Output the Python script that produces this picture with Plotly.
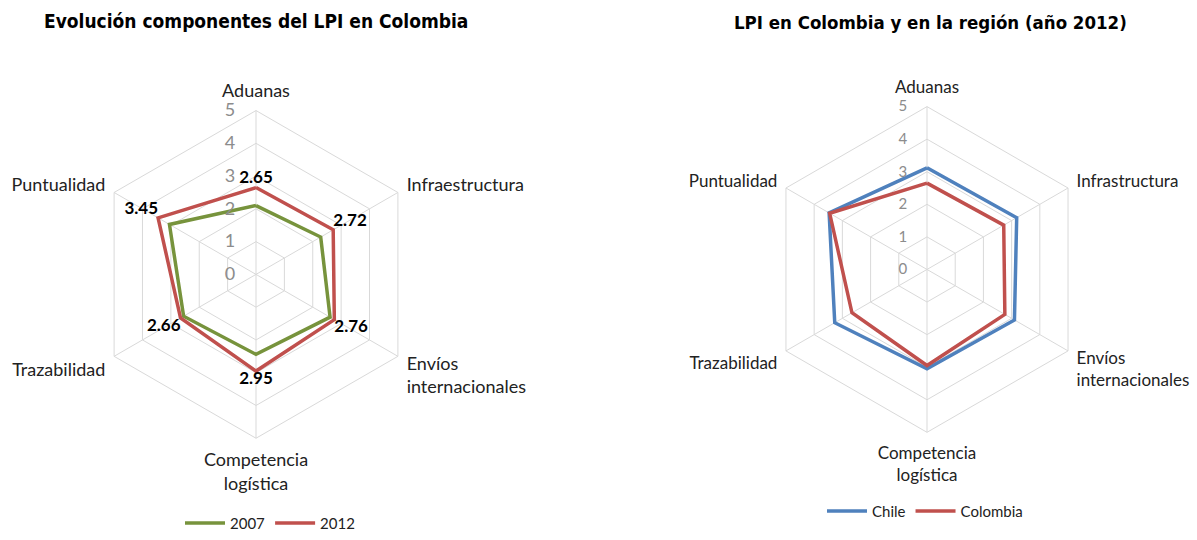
import plotly.graph_objects as go

categories = ["Aduanas", "Infraestructura", "Envíos<br>internacionales",
              "Competencia<br>logística", "Trazabilidad", "Puntualidad"]
categories_r = ["Aduanas", "Infrastructura", "Envíos<br>internacionales",
                "Competencia<br>logística", "Trazabilidad", "Puntualidad"]
col_2007 = [2.10, 2.28, 2.61, 2.44, 2.55, 3.05]
col_2012 = [2.65, 2.72, 2.76, 2.95, 2.66, 3.45]
chile_2012 = [3.12, 3.18, 3.10, 3.05, 3.27, 3.47]
colombia_2012 = [2.65, 2.72, 2.76, 2.95, 2.66, 3.45]
label_pos = ["top center", "top right", "bottom right", "bottom center", "bottom left", "top left"]

GREEN = "#77933C"
RED = "#C0504D"
BLUE = "#4F81BD"
GRID = "#D9D9D9"
FONT = "Lato"
TITLE_FONT = "DejaVu Sans Condensed"


def closed(v):
    return list(v) + [v[0]]


fig = go.Figure()
fig.add_trace(go.Scatterpolar(r=closed(col_2007), theta=closed(categories), mode="lines",
                              line=dict(color=GREEN, width=3.5), name="2007",
                              subplot="polar", legend="legend"))
fig.add_trace(go.Scatterpolar(r=closed(col_2012), theta=closed(categories), mode="lines+text",
                              line=dict(color=RED, width=3.5), name="2012",
                              text=[f"{v:.2f}" for v in col_2012] + [""],
                              textposition=label_pos + ["top center"],
                              textfont=dict(family=FONT, size=17, color="black", weight="bold"),
                              subplot="polar", legend="legend"))
fig.add_trace(go.Scatterpolar(r=closed(chile_2012), theta=closed(categories_r), mode="lines",
                              line=dict(color=BLUE, width=3.5), name="Chile",
                              subplot="polar2", legend="legend2"))
fig.add_trace(go.Scatterpolar(r=closed(colombia_2012), theta=closed(categories_r), mode="lines",
                              line=dict(color=RED, width=3.5), name="Colombia",
                              subplot="polar2", legend="legend2"))


def polar_cfg(dx, dy, tick_size, cat_size):
    return dict(
        domain=dict(x=dx, y=dy),
        gridshape="linear",
        bgcolor="white",
        radialaxis=dict(range=[0, 5], tickvals=[0, 1, 2, 3, 4, 5], angle=90, tickangle=90,
                        side="counterclockwise",
                        showline=False, gridcolor=GRID, gridwidth=1,
                        ticks="outside", ticklen=14, tickcolor="rgba(0,0,0,0)",
                        tickfont=dict(family=FONT, size=tick_size, color="#8C8C8C")),
        angularaxis=dict(rotation=90, direction="clockwise", gridcolor=GRID, linecolor=GRID,
                         linewidth=1, ticks="outside", ticklen=6, tickcolor="rgba(0,0,0,0)",
                         tickfont=dict(family=FONT, size=cat_size, color="#222222")),
    )


W, H = 1197, 540
fig.update_layout(
    width=W, height=H,
    margin=dict(l=0, r=0, t=0, b=0),
    paper_bgcolor="white", plot_bgcolor="white",
    polar=polar_cfg([90 / W, 422 / W], [1 - 444 / H, 1 - 112 / H], 18, 18),
    polar2=polar_cfg([762 / W, 1092 / W], [1 - 438 / H, 1 - 108 / H], 15, 17),
    legend=dict(orientation="h", x=270 / W, xanchor="center", y=1 - 530 / H, yanchor="middle",
                font=dict(family=FONT, size=15, color="#222222"), itemwidth=40),
    legend2=dict(orientation="h", x=925 / W, xanchor="center", y=1 - 518 / H, yanchor="middle",
                 font=dict(family=FONT, size=15, color="#222222"), itemwidth=40),
    annotations=[
        dict(text="<b>Evolución componentes del LPI en Colombia</b>", x=256 / W, y=1 - 21 / H,
             xref="paper", yref="paper", showarrow=False, xanchor="center", yanchor="middle",
             font=dict(family=TITLE_FONT, size=19, color="black")),
        dict(text="<b>LPI en Colombia y en la región (año 2012)</b>", x=930 / W, y=1 - 23 / H,
             xref="paper", yref="paper", showarrow=False, xanchor="center", yanchor="middle",
             font=dict(family=TITLE_FONT, size=18.5, color="black")),
    ],
)

fig.write_html("out.html")
